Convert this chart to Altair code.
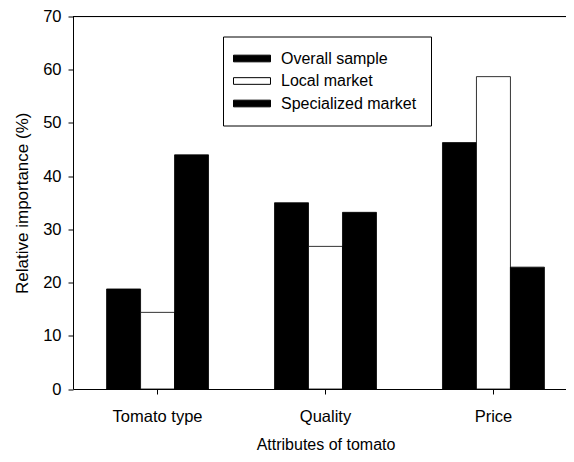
import altair as alt
import pandas as pd

categories = ["Tomato type", "Quality", "Price"]
series = ["Overall sample", "Local market", "Specialized market"]
overall = [18.8, 35.0, 46.3]
local = [14.4, 26.8, 58.7]
specialized = [44.0, 33.2, 22.9]
series_colors = ["#000000", "#ffffff", "#000000"]
y_ticks = [0, 10, 20, 30, 40, 50, 60, 70]
y_max = 70

rows = []
for s, vals in zip(series, [overall, local, specialized]):
    for c, v in zip(categories, vals):
        rows.append({"attribute": c, "series": s, "value": v})
df = pd.DataFrame(rows)

FONT = "Liberation Sans"

bars = alt.Chart(df).mark_bar(stroke="black", strokeWidth=1, strokeOpacity=0.8).encode(
    x=alt.X(
        "attribute:N",
        sort=categories,
        scale=alt.Scale(paddingInner=0.393, paddingOuter=0.2),
        axis=alt.Axis(
            title="Attributes of tomato",
            labelAngle=0,
            labelFontSize=16.5,
            titleFontSize=16,
            labelPadding=14,
            titlePadding=12,
            tickSize=5,
            labelColor="black",
            titleColor="black",
            domainColor="black",
            tickColor="black",
            titleFontWeight="normal",
            labelFont=FONT,
            titleFont=FONT,
        ),
    ),
    xOffset=alt.XOffset("series:N", sort=series, scale=alt.Scale(paddingInner=0, paddingOuter=0)),
    y=alt.Y(
        "value:Q",
        scale=alt.Scale(domain=[0, y_max], nice=False),
        axis=alt.Axis(
            values=y_ticks,
            title="Relative importance (%)",
            grid=False,
            labelFontSize=16.5,
            titleFontSize=17,
            labelPadding=7,
            titlePadding=11,
            tickSize=5,
            labelColor="black",
            titleColor="black",
            domainColor="black",
            tickColor="black",
            titleFontWeight="normal",
            labelFont=FONT,
            titleFont=FONT,
        ),
    ),
    color=alt.Color(
        "series:N",
        sort=series,
        scale=alt.Scale(domain=series, range=series_colors),
        legend=alt.Legend(
            title=None,
            orient="none",
            legendX=150,
            legendY=20,
            strokeColor="black",
            padding=14,
            symbolType="M-2.5,-0.45L2.5,-0.45L2.5,0.45L-2.5,0.45Z",
            symbolSize=219,
            symbolStrokeColor="black",
            symbolStrokeWidth=1,
            symbolOffset=7,
            labelOffset=21,
            rowPadding=6.5,
            labelFontSize=16,
            labelFont=FONT,
            labelColor="black",
        ),
    ),
)

top = alt.Chart(pd.DataFrame({"top": [y_max]})).mark_rule(color="black", strokeWidth=1).encode(
    y=alt.Y("top:Q")
)

chart = alt.layer(bars, top).properties(
    width=505,
    height=372.5,
    autosize=alt.AutoSizeParams(type="none"),
    padding={"left": 65, "top": 8.5, "right": -12, "bottom": 65},
).configure_view(stroke=None).configure(font=FONT)

chart.save("out.html", embed_options={"renderer": "svg", "actions": False})
